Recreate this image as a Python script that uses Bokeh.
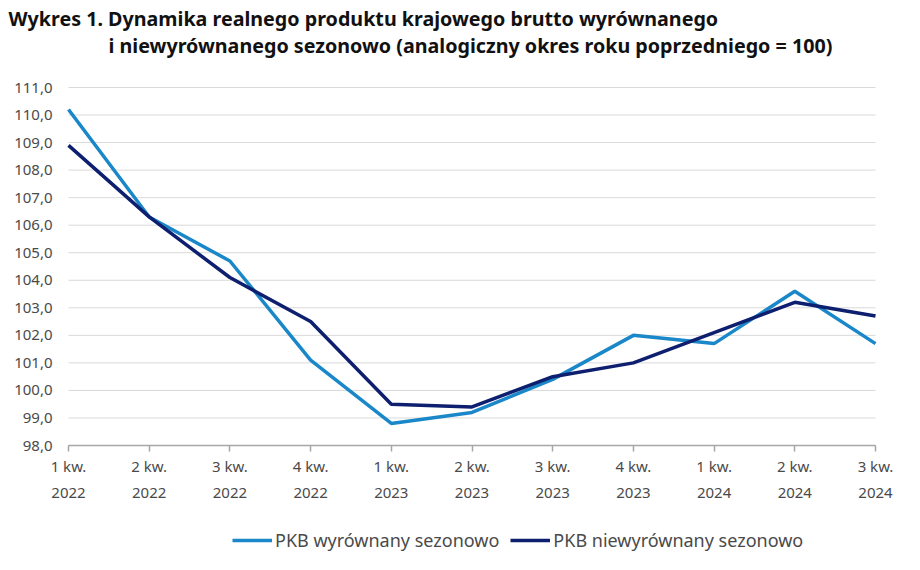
from bokeh.plotting import figure
from bokeh.models import (ColumnDataSource, Legend, LegendItem, Title, LinearAxis,
                          CustomJSTickFormatter, FixedTicker, Range1d)
from bokeh.embed import file_html
from bokeh.resources import INLINE

quarters = ["1 kw.\n2022", "2 kw.\n2022", "3 kw.\n2022", "4 kw.\n2022",
            "1 kw.\n2023", "2 kw.\n2023", "3 kw.\n2023", "4 kw.\n2023",
            "1 kw.\n2024", "2 kw.\n2024", "3 kw.\n2024"]
pkb_sa = [110.2, 106.3, 104.7, 101.1, 98.8, 99.2, 100.4, 102.0, 101.7, 103.6, 101.7]
pkb_nsa = [108.9, 106.3, 104.1, 102.5, 99.5, 99.4, 100.5, 101.0, 102.1, 103.2, 102.7]
y_ticks = [98, 99, 100, 101, 102, 103, 104, 105, 106, 107, 108, 109, 110, 111]

title1 = "Wykres 1. Dynamika realnego produktu krajowego brutto wyrównanego"
title2 = "i niewyrównanego sezonowo (analogiczny okres roku poprzedniego = 100)"
name_sa = "PKB wyrównany sezonowo"
name_nsa = "PKB niewyrównany sezonowo"

C_SA = "#1a87c9"
C_NSA = "#0d1f6e"
C_GRID = "#d9d9d9"
C_AXIS = "#a6a6a6"
TXT = "#4a4a4a"
FONT = "Noto Sans"

xs = list(range(len(quarters)))

# Layout (pixels): plot area of the data is 807 x 358 px; the frame is widened so that
# axis labels and the legend (drawn inside the frame) are not clipped.
PLOT_W, PLOT_H = 807.0, 358.0
PAD_LEFT, PAD_RIGHT, PAD_BOTTOM, PAD_TOP = 58.0, 25.0, 113.0, 12.0
px_x = PLOT_W / (xs[-1] - xs[0])
px_y = PLOT_H / (y_ticks[-1] - y_ticks[0])
x_range = Range1d(xs[0] - PAD_LEFT / px_x, xs[-1] + PAD_RIGHT / px_x)
y_range = Range1d(y_ticks[0] - PAD_BOTTOM / px_y, y_ticks[-1] + PAD_TOP / px_y)

src = ColumnDataSource(dict(x=xs, sa=pkb_sa, nsa=pkb_nsa))
grid_src = ColumnDataSource(dict(y=y_ticks, x0=[xs[0]] * len(y_ticks), x1=[xs[-1]] * len(y_ticks)))

p = figure(width=908, height=560, output_backend="svg", toolbar_location=None,
           x_range=x_range, y_range=y_range,
           min_border_left=10, min_border_right=8, min_border_top=75, min_border_bottom=2,
           x_axis_location=None, y_axis_location=None, title=None)
p.outline_line_color = None
p.background_fill_color = "white"
p.border_fill_color = "white"
p.xgrid.visible = False
p.ygrid.visible = False

t2 = Title(text=title2, align="left", offset=98, text_font=FONT, text_font_style="bold",
           text_font_size="19.7px", text_color="#111111", standoff=34)
t1 = Title(text=title1, align="left", offset=-2, text_font=FONT, text_font_style="bold",
           text_font_size="19.7px", text_color="#111111", standoff=-39)
p.add_layout(t2, "above")
p.add_layout(t1, "above")

# horizontal grid lines at the y ticks, spanning the data extent
p.segment(x0="x0", x1="x1", y0="y", y1="y", source=grid_src, line_color=C_GRID, line_width=1)

r_sa = p.line("x", "sa", source=src, line_color=C_SA, line_width=3.5)
r_nsa = p.line("x", "nsa", source=src, line_color=C_NSA, line_width=3.5)

yaxis = LinearAxis(fixed_location=xs[0], ticker=FixedTicker(ticks=y_ticks),
                   formatter=CustomJSTickFormatter(code="return tick.toFixed(1).replace('.', ',');"),
                   axis_line_color=None, major_tick_line_color=None, minor_tick_line_color=None,
                   major_tick_out=0, major_tick_in=0, major_label_standoff=16,
                   major_label_text_font=FONT, major_label_text_font_size="15px",
                   major_label_text_color=TXT)
p.add_layout(yaxis, "left")

xaxis = LinearAxis(fixed_location=y_ticks[0], ticker=FixedTicker(ticks=xs),
                   bounds=(xs[0], xs[-1]),
                   major_label_overrides={i: q for i, q in zip(xs, quarters)},
                   axis_line_color=C_AXIS, axis_line_width=1.5,
                   major_tick_line_color=C_AXIS, major_tick_line_width=1.5,
                   major_tick_out=6, major_tick_in=0, minor_tick_line_color=None,
                   major_label_standoff=4, major_label_text_font=FONT,
                   major_label_text_font_size="15px", major_label_text_color=TXT,
                   major_label_text_line_height=1.3)
p.add_layout(xaxis, "below")

legend = Legend(items=[LegendItem(label=name_sa, renderers=[r_sa]),
                       LegendItem(label=name_nsa, renderers=[r_nsa])],
                orientation="horizontal", location=(222, 6),
                label_text_font=FONT, label_text_font_size="18px", label_text_color=TXT,
                glyph_width=40, glyph_height=16, label_standoff=3, spacing=11,
                border_line_color=None, background_fill_alpha=0, margin=0, padding=0)
p.add_layout(legend, "center")

open("out.html", "w").write(file_html(p, INLINE))
